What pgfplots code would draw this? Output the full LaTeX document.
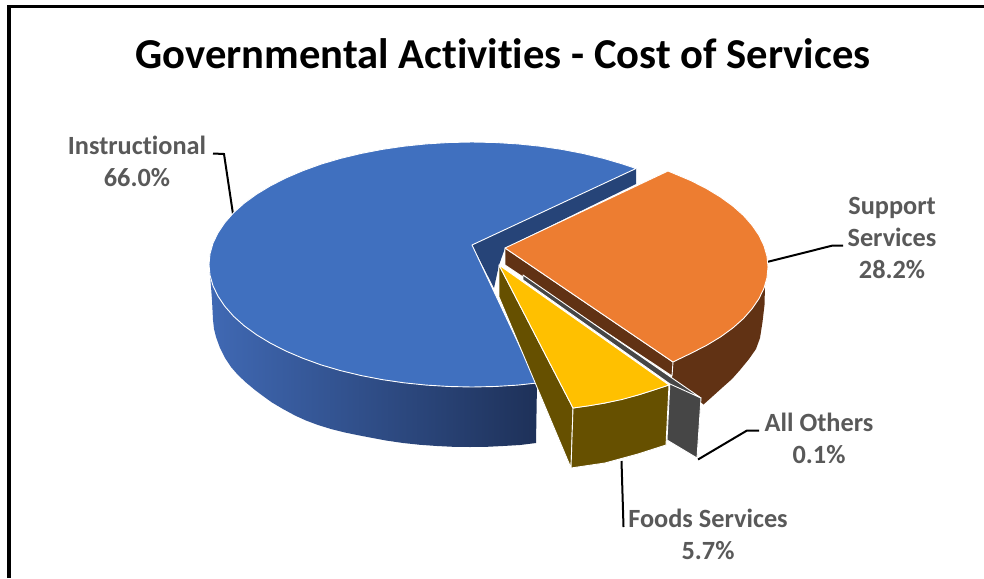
\documentclass[border=0pt]{standalone}
\usepackage{pgfplots}
\pgfplotsset{compat=1.18}
\usepackage{fontspec}
\setmainfont{Carlito}[Ligatures={NoCommon,TeX}]
\definecolor{bluetop}{HTML}{4070BF}
\definecolor{bluewallA}{HTML}{4069B4}
\definecolor{bluewallB}{HTML}{1E3159}
\definecolor{bluecut}{HTML}{264478}
\definecolor{orangetop}{HTML}{ED7D31}
\definecolor{orangewall}{HTML}{613214}
\definecolor{greywall}{HTML}{464646}
\definecolor{yellowtop}{HTML}{FFC000}
\definecolor{yellowwall}{HTML}{665000}
\definecolor{labelgrey}{HTML}{595959}
\newcommand{\lab}[4]{\node[anchor=base,text=labelgrey,font=\fontsize{#3}{#3}\selectfont\bfseries,inner sep=0pt] at (axis cs:#1,#2) {#4};}
\begin{document}
\begin{tikzpicture}
\begin{axis}[
  scale only axis, width=984pt, height=578pt,
  xmin=0, xmax=984, ymin=0, ymax=578, y dir=reverse,
  hide axis, clip=true,
]
% page frame
\addplot[draw=none, fill=white] coordinates {(0,0) (984,0) (984,578) (0,578)} -- cycle;
\addplot[black, line width=3.6pt] coordinates {(9,578) (9,6.5) (984,6.5)};

% leader lines
\addplot[black, line width=2pt] coordinates {(213,153.5) (224,154) (233,214)};
\addplot[black, line width=2pt] coordinates {(767,262) (832,245.7) (843,245.7)};
\addplot[black, line width=2pt] coordinates {(698,459.5) (747,430.5) (759,430.5)};
\addplot[black, line width=2pt] coordinates {(621.5,461) (623.5,527)};

\pgfplotsset{slice/.style={draw=white, line width=0.9pt, line join=round}}

% Instructional: rim, cut face, top
\addplot[draw=none, left color=bluewallA, right color=bluewallB] coordinates {
 (209,264.5) (210,275.2) (213,285.8) (218,296.2) (224.9,306.4) (233.6,316.3) (244.2,325.8)
 (256.6,334.8) (270.5,343.2) (286,351.1) (302.9,358.3) (321.1,364.9) (340.5,370.6)
 (360.9,375.5) (382.1,379.6) (403.9,382.8) (426.3,385.1) (449.1,386.5) (472,387)
 (494.9,386.5) (517.7,385.1) (537,383)
 (536,443) (520,445) (503,446) (487,446.8) (470,447) (453,446.8) (437,446) (420,444.8)
 (403,443) (386,440.5) (370,437.5) (357,435) (345,432.5) (331,429) (318,425) (306,420.5)
 (295,415.5) (283,409) (272,402.5) (263,396) (255,390) (246,382.5) (238,375) (231,367)
 (225,358) (220,348) (216,337) (214,329) (213,320) (212,300) (210.5,280)} -- cycle;
\addplot[draw=none, fill=bluecut] coordinates {
 (472,245) (636,168) (636,184) (505,248) (499,265) (494,288)} -- cycle;
\addplot[slice, fill=bluetop] coordinates {
 (636,168.5) (622.9,164.1) (603.5,158.4) (583.1,153.5) (561.9,149.4) (540.1,146.2)
 (517.7,143.9) (494.9,142.5) (472,142) (449.1,142.5) (426.3,143.9) (403.9,146.2)
 (382.1,149.4) (360.9,153.5) (340.5,158.4) (321.1,164.1) (302.9,170.7) (286,177.9)
 (270.5,185.8) (256.6,194.2) (244.2,203.2) (233.6,212.7) (224.9,222.6) (218,232.8)
 (213,243.2) (210,253.8) (209,264.5) (210,275.2) (213,285.8) (218,296.2) (224.9,306.4)
 (233.6,316.3) (244.2,325.8) (256.6,334.8) (270.5,343.2) (286,351.1) (302.9,358.3)
 (321.1,364.9) (340.5,370.6) (360.9,375.5) (382.1,379.6) (403.9,382.8) (426.3,385.1)
 (449.1,386.5) (472,387) (494.9,386.5) (517.7,385.1) (537,383) (472,245)} -- cycle;

% Support Services: rim, cut face, top
\addplot[draw=none, fill=orangewall] coordinates {
 (765,285) (764.5,305) (762.5,322) (760,338) (756,349) (749,359) (740,370) (732,379)
 (723,387) (713,396) (703.5,404.5) (672,378) (673,362) (691,353.3) (706.5,345.4)
 (720.4,337) (732.8,328) (743.4,318.6) (752.1,308.7) (759,298.6)} -- cycle;
\addplot[slice, fill=orangewall] coordinates {(505,248) (673,362) (672,376) (505,265)} -- cycle;
\addplot[slice, fill=orangetop] coordinates {
 (505,248) (668,171) (691,180.7) (706.5,188.6) (720.4,197) (732.8,206) (743.4,215.4)
 (752.1,225.3) (759,235.4) (764,245.8) (767,256.4) (768,267) (767,277.6) (764,288.2)
 (759,298.6) (752.1,308.7) (743.4,318.6) (732.8,328) (720.4,337) (706.5,345.4)
 (691,353.3) (673,362)} -- cycle;

% All Others: rim, cut face, thin top
\addplot[slice, fill=greywall] coordinates {(670,381) (701,398) (697,458) (667,440)} -- cycle;
\addplot[slice, fill=greywall] coordinates {(523,275) (701,398) (670,384) (523,280)} -- cycle;

% Foods Services: cut face, rim, top
\addplot[slice, fill=yellowwall] coordinates {(499,265) (573,408) (571,468) (499,297)} -- cycle;
\addplot[slice, fill=yellowwall] coordinates {
 (573,408) (605,403) (638,395) (669,385) (666,445) (638,454) (605,463) (571,468)} -- cycle;
\addplot[slice, fill=yellowtop] coordinates {
 (499,265) (669,385) (654,390) (638,395) (622,399.5) (605,403) (589,405.8) (573,408)} -- cycle;

% title and data labels
\node[anchor=base,text=black,font=\fontsize{42.6}{42.6}\selectfont\bfseries,inner sep=0pt] at (axis cs:503,68) {Governmental Activities - Cost of Services};
\lab{137}{154}{26.3}{Instructional}
\lab{137}{186}{26.3}{66.0\%}
\lab{892}{214}{26.3}{Support}
\lab{892}{246}{26.3}{Services}
\lab{892}{278}{26.3}{28.2\%}
\lab{819}{431}{26.3}{All Others}
\lab{819}{463}{26.3}{0.1\%}
\lab{708}{527}{26.3}{Foods Services}
\lab{708}{559}{26.3}{5.7\%}
\end{axis}
\end{tikzpicture}
\end{document}
